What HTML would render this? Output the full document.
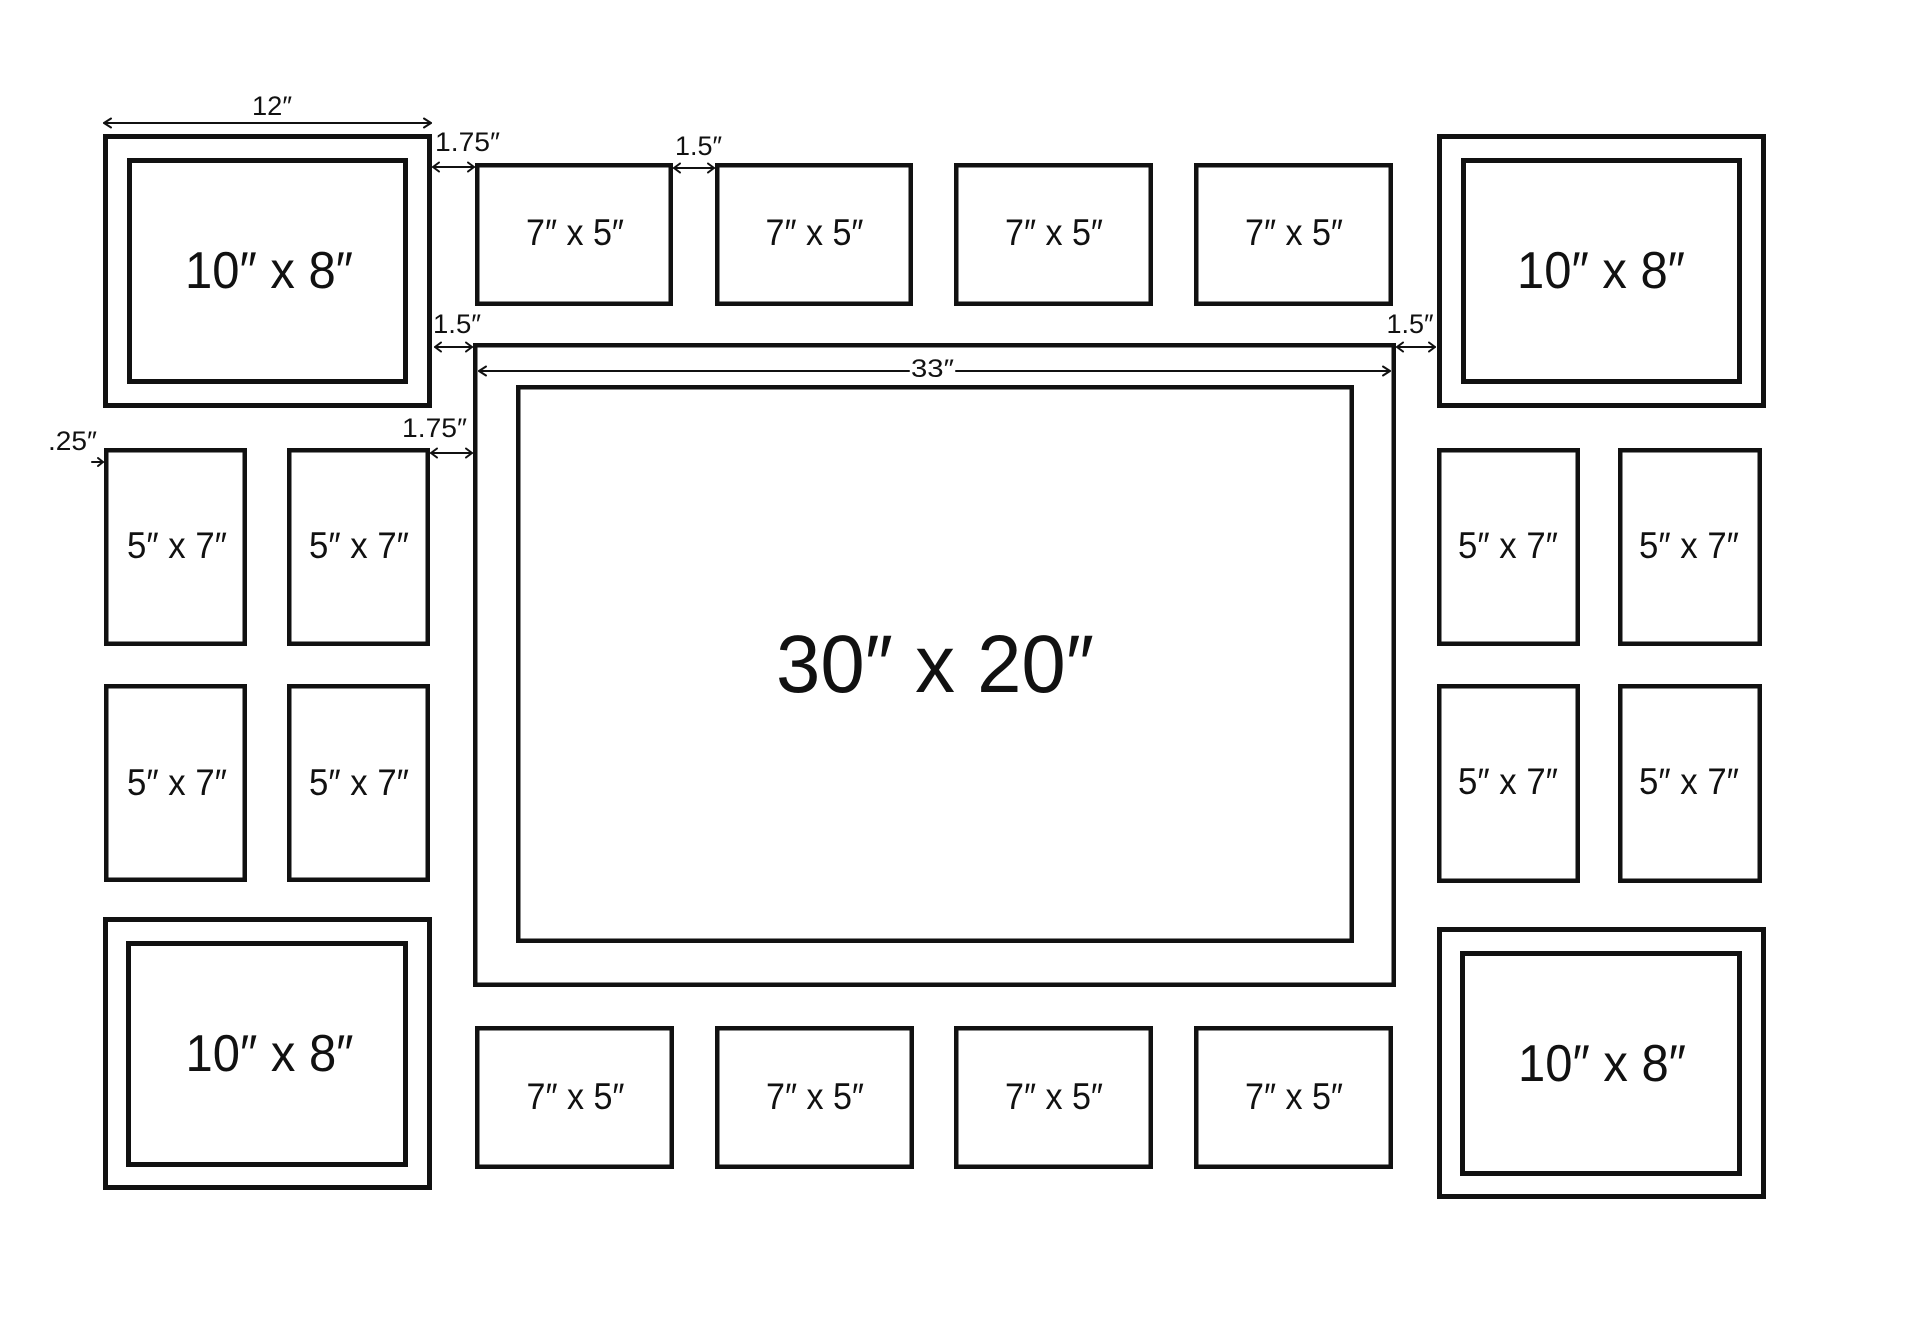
<!DOCTYPE html>
<html>
<head>
<meta charset="utf-8">
<style>
  html,body{margin:0;padding:0;background:#fff;}
  svg{display:block;}
  text{font-family:"Liberation Sans", sans-serif; fill:#111;}
</style>
</head>
<body>
<svg width="1920" height="1322" viewBox="0 0 1920 1322" xmlns="http://www.w3.org/2000/svg">
  <rect x="0" y="0" width="1920" height="1322" fill="#fff"/>
  <g fill="none" stroke="#111">
    <!-- 10x8 frames (outer/inner) -->
    <g stroke-width="5">
      <rect x="105.5" y="136.5" width="324" height="269"/>
      <rect x="129.5" y="160.5" width="276" height="221"/>
      <rect x="1439.5" y="136.5" width="324" height="269"/>
      <rect x="1463.5" y="160.5" width="276" height="221"/>
      <rect x="105.5" y="919.5" width="324" height="268"/>
      <rect x="128.5" y="943.5" width="277" height="221"/>
      <rect x="1439.5" y="929.5" width="324" height="267"/>
      <rect x="1462.5" y="953.5" width="277" height="220"/>
    </g>
    <g stroke-width="4.5">
      <!-- top 7x5 -->
      <rect x="477.25" y="165.25" width="193.5" height="138.5"/>
      <rect x="717.25" y="165.25" width="193.5" height="138.5"/>
      <rect x="956.25" y="165.25" width="194.5" height="138.5"/>
      <rect x="1196.25" y="165.25" width="194.5" height="138.5"/>
      <!-- bottom 7x5 -->
      <rect x="477.25" y="1028.25" width="194.5" height="138.5"/>
      <rect x="717.25" y="1028.25" width="194.5" height="138.5"/>
      <rect x="956.25" y="1028.25" width="194.5" height="138.5"/>
      <rect x="1196.25" y="1028.25" width="194.5" height="138.5"/>
      <!-- left 5x7 -->
      <rect x="106.25" y="450.25" width="138.5" height="193.5"/>
      <rect x="289.25" y="450.25" width="138.5" height="193.5"/>
      <rect x="106.25" y="686.25" width="138.5" height="193.5"/>
      <rect x="289.25" y="686.25" width="138.5" height="193.5"/>
      <!-- right 5x7 -->
      <rect x="1439.25" y="450.25" width="138.5" height="193.5"/>
      <rect x="1620.25" y="450.25" width="139.5" height="193.5"/>
      <rect x="1439.25" y="686.25" width="138.5" height="194.5"/>
      <rect x="1620.25" y="686.25" width="139.5" height="194.5"/>
      <!-- big frame -->
      <rect x="475.25" y="345.25" width="918.5" height="639.5"/>
      <rect x="518.25" y="387.25" width="833.5" height="553.5"/>
    </g>
  </g>

  <!-- dimension arrows -->
  <g fill="none" stroke="#111" stroke-width="2" stroke-linecap="round" stroke-linejoin="round">
    <!-- 12" -->
    <line x1="104" y1="123" x2="431" y2="123"/>
    <path d="M111,118.5 L104,123 L111,127.5"/>
    <path d="M424,118.5 L431,123 L424,127.5"/>
    <!-- 1.75" top -->
    <line x1="433" y1="167" x2="474" y2="167"/>
    <path d="M439,162.5 L433,167 L439,171.5"/>
    <path d="M468,162.5 L474,167 L468,171.5"/>
    <!-- 1.5" between top frames -->
    <line x1="674" y1="168" x2="714" y2="168"/>
    <path d="M680,163.5 L674,168 L680,172.5"/>
    <path d="M708,163.5 L714,168 L708,172.5"/>
    <!-- 1.5" left -->
    <line x1="435" y1="347" x2="472" y2="347"/>
    <path d="M441,342.5 L435,347 L441,351.5"/>
    <path d="M466,342.5 L472,347 L466,351.5"/>
    <!-- 1.5" right -->
    <line x1="1397" y1="347" x2="1435" y2="347"/>
    <path d="M1403,342.5 L1397,347 L1403,351.5"/>
    <path d="M1429,342.5 L1435,347 L1429,351.5"/>
    <!-- 33" -->
    <line x1="479" y1="371" x2="909" y2="371"/>
    <line x1="956" y1="371" x2="1390" y2="371"/>
    <path d="M486,366.5 L479,371 L486,375.5"/>
    <path d="M1383,366.5 L1390,371 L1383,375.5"/>
    <!-- .25" -->
    <line x1="92" y1="462" x2="103" y2="462"/>
    <path d="M98,458 L103,462 L98,466"/>
    <!-- 1.75" mid -->
    <line x1="431" y1="453" x2="472" y2="453"/>
    <path d="M437,448.5 L431,453 L437,457.5"/>
    <path d="M466,448.5 L472,453 L466,457.5"/>
  </g>

  <!-- dimension labels -->
  <g font-size="27" text-anchor="middle">
    <text x="272" y="115" textLength="40" lengthAdjust="spacingAndGlyphs">12″</text>
    <text x="467.5" y="151" textLength="65" lengthAdjust="spacingAndGlyphs">1.75″</text>
    <text x="698.5" y="155" textLength="47" lengthAdjust="spacingAndGlyphs">1.5″</text>
    <text x="457" y="333" textLength="48" lengthAdjust="spacingAndGlyphs">1.5″</text>
    <text x="1410" y="333" textLength="47" lengthAdjust="spacingAndGlyphs">1.5″</text>
    <text x="72.5" y="450" textLength="49" lengthAdjust="spacingAndGlyphs">.25″</text>
    <text x="434.5" y="437" textLength="65" lengthAdjust="spacingAndGlyphs">1.75″</text>
    <text x="932.5" y="377" font-size="25" textLength="43" lengthAdjust="spacingAndGlyphs">33″</text>
  </g>

  <!-- frame labels -->
  <g font-size="52" text-anchor="middle">
    <text x="269" y="288" textLength="168" lengthAdjust="spacingAndGlyphs">10″ x 8″</text>
    <text x="1601" y="288" textLength="168" lengthAdjust="spacingAndGlyphs">10″ x 8″</text>
    <text x="269.5" y="1071" textLength="168" lengthAdjust="spacingAndGlyphs">10″ x 8″</text>
    <text x="1602" y="1081" textLength="168" lengthAdjust="spacingAndGlyphs">10″ x 8″</text>
  </g>
  <g font-size="37" text-anchor="middle">
    <text x="575" y="245" textLength="98" lengthAdjust="spacingAndGlyphs">7″ x 5″</text>
    <text x="814.5" y="245" textLength="98" lengthAdjust="spacingAndGlyphs">7″ x 5″</text>
    <text x="1054" y="245" textLength="98" lengthAdjust="spacingAndGlyphs">7″ x 5″</text>
    <text x="1294" y="245" textLength="98" lengthAdjust="spacingAndGlyphs">7″ x 5″</text>
    <text x="575.5" y="1109" textLength="98" lengthAdjust="spacingAndGlyphs">7″ x 5″</text>
    <text x="815" y="1109" textLength="98" lengthAdjust="spacingAndGlyphs">7″ x 5″</text>
    <text x="1054" y="1109" textLength="98" lengthAdjust="spacingAndGlyphs">7″ x 5″</text>
    <text x="1294" y="1109" textLength="98" lengthAdjust="spacingAndGlyphs">7″ x 5″</text>

    <text x="177" y="558" textLength="100" lengthAdjust="spacingAndGlyphs">5″ x 7″</text>
    <text x="359" y="558" textLength="100" lengthAdjust="spacingAndGlyphs">5″ x 7″</text>
    <text x="177" y="795" textLength="100" lengthAdjust="spacingAndGlyphs">5″ x 7″</text>
    <text x="359" y="795" textLength="100" lengthAdjust="spacingAndGlyphs">5″ x 7″</text>
    <text x="1508" y="558" textLength="100" lengthAdjust="spacingAndGlyphs">5″ x 7″</text>
    <text x="1689" y="558" textLength="100" lengthAdjust="spacingAndGlyphs">5″ x 7″</text>
    <text x="1508" y="794" textLength="100" lengthAdjust="spacingAndGlyphs">5″ x 7″</text>
    <text x="1689" y="794" textLength="100" lengthAdjust="spacingAndGlyphs">5″ x 7″</text>
  </g>
  <text x="935" y="692" font-size="82" text-anchor="middle" textLength="318" lengthAdjust="spacingAndGlyphs">30″ x 20″</text>
</svg>
</body>
</html>
